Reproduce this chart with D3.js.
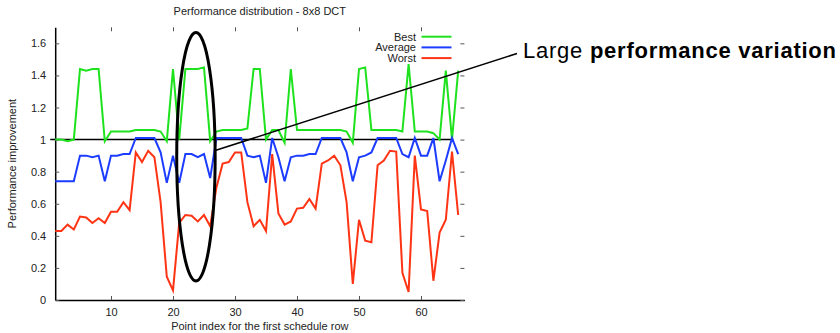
<!DOCTYPE html>
<html lang="en">
<head>
  <meta charset="utf-8">
  <title>Performance distribution - 8x8 DCT</title>
  <script src="https://d3js.org/d3.v7.min.js"></script>
  <style>
    html, body { margin:0; padding:0; background:#fff; }
    svg { display:block; font-family:"Liberation Sans", Arial, sans-serif; }
  </style>
</head>
<body>
  <div id="chart"></div>
  <script>
    // ─── Data ──────────────────────────────────────────────────────────────────
    const best = [1.0,1.0,0.99,1.0,1.44,1.43,1.44,1.44,0.99,1.05,
                  1.05,1.05,1.05,1.06,1.06,1.06,1.06,1.05,0.99,1.44,
                  1.0,1.44,1.44,1.44,1.45,0.99,1.05,1.06,1.06,1.06,
                  1.06,1.07,1.44,1.44,1.0,1.06,1.06,0.98,1.44,1.06,
                  1.06,1.06,1.06,1.06,1.06,1.06,1.06,1.05,0.98,1.44,
                  1.45,1.06,1.06,1.06,1.06,1.06,1.05,1.47,1.05,1.05,
                  1.05,1.04,1.0,1.43,1.0,1.43];
    const average = [0.74,0.74,0.74,0.74,0.90,0.90,0.89,0.90,0.74,0.90,
                     0.90,0.91,0.91,1.01,1.01,1.01,1.01,0.92,0.73,0.90,
                     0.73,0.91,0.91,0.89,0.91,0.76,1.01,1.01,1.01,1.01,
                     1.01,0.90,0.89,0.90,0.73,1.01,0.89,0.74,0.89,0.90,
                     0.90,0.91,0.91,1.01,1.01,1.01,1.01,0.92,0.74,0.89,
                     0.90,0.92,1.01,1.01,1.01,1.01,0.91,0.89,1.01,0.90,
                     0.90,1.01,0.74,0.87,1.01,0.91];
    const worst = [0.43,0.43,0.47,0.44,0.52,0.515,0.48,0.51,0.48,0.55,
                   0.55,0.61,0.56,0.92,0.86,0.93,0.89,0.61,0.145,0.06,
                   0.48,0.53,0.525,0.49,0.53,0.46,0.70,0.85,0.86,0.92,
                   0.92,0.61,0.46,0.50,0.43,0.91,0.54,0.47,0.49,0.57,
                   0.575,0.63,0.57,0.85,0.87,0.90,0.84,0.61,0.10,0.50,
                   0.37,0.36,0.84,0.87,0.93,0.925,0.17,0.05,0.90,0.565,
                   0.555,0.12,0.42,0.50,0.925,0.53];
    const seriesNames = ["Best", "Average", "Worst"];
    const xTicks = [10, 20, 30, 40, 50, 60];
    const yTicks = [0, 0.2, 0.4, 0.6, 0.8, 1, 1.2, 1.4, 1.6];
    // ───────────────────────────────────────────────────────────────────────────

    const colors = ["#1ee21e", "#1c3cff", "#ff3414"];
    const series = [best, average, worst].map((vals, k) => ({
      name: seriesNames[k],
      color: colors[k],
      values: vals.map((v, i) => ({ x: i + 1, y: v }))
    }));

    const W = 840, H = 333;
    const svg = d3.select("#chart").append("svg")
      .attr("width", W).attr("height", H);

    const x = d3.scaleLinear().domain([1, 67]).range([55.2, 464.4]);
    const y = d3.scaleLinear().domain([0, 1.7]).range([300, 27.3]);

    // Reference line at 1
    svg.append("line")
      .attr("x1", x(0.2)).attr("x2", x(65.2))
      .attr("y1", y(1)).attr("y2", y(1))
      .attr("stroke", "#000").attr("stroke-width", 1.5);

    // Axes (inward ticks, mirrored on top/right without border)
    const tickLen = 4;
    const axBottom = svg.append("g").attr("transform", `translate(0,${y(0)})`)
      .call(d3.axisBottom(x).tickValues(xTicks).tickSizeInner(-tickLen).tickSizeOuter(0).tickPadding(8));
    const axLeft = svg.append("g").attr("transform", `translate(${x(1)},0)`)
      .call(d3.axisLeft(y).tickValues(yTicks).tickFormat(d3.format("~g")).tickSizeInner(-tickLen).tickSizeOuter(0).tickPadding(9));
    const axTop = svg.append("g").attr("transform", `translate(0,${y(1.7)})`)
      .call(d3.axisTop(x).tickValues(xTicks).tickSizeInner(-tickLen).tickSizeOuter(0).tickFormat(""));
    const axRight = svg.append("g").attr("transform", `translate(${x(67)},0)`)
      .call(d3.axisRight(y).tickValues(yTicks).tickSizeInner(-tickLen).tickSizeOuter(0).tickFormat(""));
    axTop.select(".domain").remove();
    axRight.select(".domain").remove();
    [axBottom, axLeft].forEach(g => g.select(".domain").attr("stroke-width", 1.5));
    [axBottom, axLeft, axTop, axRight].forEach(g => {
      g.selectAll(".tick line").attr("stroke", "#555");
      g.selectAll(".tick text").attr("font-size", 11).attr("fill", "#222")
        .attr("font-family", "\"Liberation Sans\", Arial, sans-serif");
    });

    // Series lines
    const lineGen = d3.line().x(d => x(d.x)).y(d => y(d.y));
    series.forEach(s => {
      svg.append("path")
        .datum(s.values)
        .attr("d", lineGen)
        .attr("fill", "none")
        .attr("stroke", s.color)
        .attr("stroke-width", 2)
        .attr("stroke-linejoin", "miter");
    });

    // Legend
    series.forEach((s, k) => {
      const ly = 36.7 + k * 10.7;
      svg.append("text")
        .attr("x", 416).attr("y", ly).attr("dy", "0.35em")
        .attr("text-anchor", "end").attr("font-size", 11).attr("fill", "#222")
        .text(s.name);
      svg.append("line")
        .attr("x1", 421.5).attr("x2", 451.5).attr("y1", ly).attr("y2", ly)
        .attr("stroke", s.color).attr("stroke-width", 2);
    });

    // Title and axis labels
    svg.append("text")
      .attr("x", (x(1) + x(67)) / 2).attr("y", 15)
      .attr("text-anchor", "middle").attr("font-size", 11).attr("fill", "#222")
      .text("Performance distribution - 8x8 DCT");
    svg.append("text")
      .attr("x", (x(1) + x(67)) / 2).attr("y", 330)
      .attr("text-anchor", "middle").attr("font-size", 11).attr("fill", "#222")
      .text("Point index for the first schedule row");
    svg.append("text")
      .attr("transform", `translate(16,${(y(0) + y(1.7)) / 2}) rotate(-90)`)
      .attr("text-anchor", "middle").attr("font-size", 11).attr("fill", "#222")
      .text("Performance improvement");

    // Annotation: ellipse + pointer line + caption
    const ex = 23.7, ey = 0.893, erx = 3.1, ery = 0.774;
    svg.append("ellipse")
      .attr("cx", x(ex)).attr("cy", y(ey))
      .attr("rx", x(ex + erx) - x(ex)).attr("ry", y(ey) - y(ey + ery))
      .attr("fill", "none").attr("stroke", "#000").attr("stroke-width", 3);
    svg.append("line")
      .attr("x1", x(ex + erx)).attr("y1", y(0.932))
      .attr("x2", 517).attr("y2", 53.5)
      .attr("stroke", "#000").attr("stroke-width", 1.5);
    const cap = svg.append("text")
      .attr("x", 523).attr("y", 57.5)
      .attr("font-size", 22).attr("fill", "#000")
      .attr("letter-spacing", 0.75);
    cap.append("tspan").text("Large ");
    cap.append("tspan").attr("font-weight", "bold").text("performance variation");
  </script>
</body>
</html>
